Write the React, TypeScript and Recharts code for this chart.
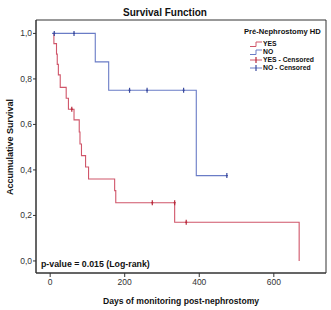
import React from "react";
import {
  ComposedChart,
  Line,
  Scatter,
  XAxis,
  YAxis,
  ReferenceArea,
} from "recharts";

// ---- data ----
const yesDays = [9, 10, 17, 19, 22, 27, 43, 49, 64, 78, 80, 84, 95, 103, 173, 176, 334, 668];
const yesSurv = [1.0, 0.955, 0.909, 0.864, 0.818, 0.763, 0.715, 0.667, 0.62, 0.567, 0.514, 0.463, 0.413, 0.36, 0.309, 0.256, 0.17, 0.0];
const noDays = [5, 121, 157, 392, 474];
const noSurv = [1.0, 0.875, 0.75, 0.375, 0.375];
const yesCensDays = [58, 274, 334, 365];
const yesCensSurv = [0.667, 0.256, 0.256, 0.17];
const noCensDays = [11, 64, 213, 260, 358, 474];
const noCensSurv = [1.0, 1.0, 0.75, 0.75, 0.75, 0.375];
const xTicks = [0, 200, 400, 600];
const yTicks = [0, 0.2, 0.4, 0.6, 0.8, 1.0];
const legendTitle = "Pré-Nephrostomy HD";
const legendItems = ["YES", "NO", "YES - Censored", "NO - Censored"];

const X_MIN = -38;
const X_MAX = 740;
const Y_MIN = -0.053;
const Y_MAX = 1.059;

const RED = "#d0566a";
const BLUE = "#6a7cc6";
const RED_D = "#b8283a";
const BLUE_D = "#3a4a9e";

const zip = (d: number[], s: number[]) => d.map((v, i) => ({ d: v, s: s[i] }));
const yesData = zip(yesDays, yesSurv);
const noData = zip(noDays, noSurv);
const yesCens = zip(yesCensDays, yesCensSurv);
const noCens = zip(noCensDays, noCensSurv);

const FONT = "Arial, 'Liberation Sans', sans-serif";

const censShape = (color: string) => (props: any) => {
  const { cx, cy } = props;
  if (cx == null || cy == null) return <g />;
  return (
    <g>
      <line x1={cx} x2={cx} y1={cy - 2.5} y2={cy + 2.5} stroke={color} strokeWidth={1.2} />
      <line x1={cx - 1} x2={cx + 1} y1={cy} y2={cy} stroke={color} strokeWidth={1.2} />
    </g>
  );
};

const txt = (
  text: string,
  cx: number,
  cy: number,
  size: number,
  extra: React.CSSProperties = {}
) => (
  <div
    style={{
      position: "absolute",
      left: cx - 110,
      top: cy - 7,
      width: 220,
      height: 14,
      lineHeight: "14px",
      textAlign: "center",
      fontFamily: FONT,
      fontWeight: "bold",
      fontSize: size,
      color: "#111",
      whiteSpace: "nowrap",
      ...extra,
    }}
  >
    {text}
  </div>
);

const LegendIcon = ({ idx }: { idx: number }) => {
  const color = idx % 2 === 0 ? RED : BLUE;
  const dark = idx % 2 === 0 ? RED_D : BLUE_D;
  if (idx < 2) {
    return (
      <svg width={13} height={8} style={{ display: "block" }}>
        <path d="M0,6.5 H6 V2 H12" fill="none" stroke={color} strokeWidth={1} />
      </svg>
    );
  }
  return (
    <svg width={13} height={8} style={{ display: "block" }}>
      <line x1={0} x2={12} y1={4} y2={4} stroke={color} strokeWidth={1} />
      <line x1={6} x2={6} y1={1} y2={7} stroke={dark} strokeWidth={1.2} />
    </svg>
  );
};

export default function App() {
  return (
    <div
      style={{
        position: "absolute",
        left: 0,
        top: 0,
        width: 331,
        height: 310,
        background: "#fff",
      }}
    >
      <ComposedChart
        width={331}
        height={310}
        margin={{ top: 20, right: 5, left: 0, bottom: 0 }}
      >
        <XAxis
          dataKey="d"
          type="number"
          domain={[X_MIN, X_MAX]}
          ticks={xTicks}
          allowDataOverflow
          height={37}
          tickSize={4}
          tickMargin={2}
          axisLine={{ stroke: "#333" }}
          tickLine={{ stroke: "#333" }}
          tick={{ fontSize: 8.5, fill: "#333", fontFamily: FONT }}
        />
        <YAxis
          dataKey="s"
          type="number"
          domain={[Y_MIN, Y_MAX]}
          ticks={yTicks}
          allowDataOverflow
          width={36}
          tickSize={3}
          tickMargin={1}
          axisLine={{ stroke: "#333" }}
          tickLine={{ stroke: "#333" }}
          tickFormatter={(v: number) => v.toFixed(1).replace(".", ",")}
          tick={{ fontSize: 8.5, fill: "#333", fontFamily: FONT }}
        />
        <ReferenceArea
          x1={X_MIN}
          x2={X_MAX}
          y1={Y_MIN}
          y2={Y_MAX}
          fill="none"
          fillOpacity={0}
          stroke="#333"
          strokeWidth={1}
          ifOverflow="visible"
        />
        <Line
          data={yesData}
          dataKey="s"
          type="stepAfter"
          stroke={RED}
          strokeWidth={1.1}
          dot={false}
          isAnimationActive={false}
        />
        <Line
          data={noData}
          dataKey="s"
          type="stepAfter"
          stroke={BLUE}
          strokeWidth={1.1}
          dot={false}
          isAnimationActive={false}
        />
        <Scatter
          data={yesCens}
          dataKey="s"
          shape={censShape(RED_D)}
          isAnimationActive={false}
        />
        <Scatter
          data={noCens}
          dataKey="s"
          shape={censShape(BLUE_D)}
          isAnimationActive={false}
        />
      </ComposedChart>

      {txt("Survival Function", 165, 13, 10)}
      {txt("Days of monitoring post-nephrostomy", 181, 301, 8.6)}
      {txt("Accumulative Survival", 10, 147, 9, { transform: "rotate(-90deg)" })}
      <div
        style={{
          position: "absolute",
          left: 41,
          top: 258,
          fontFamily: FONT,
          fontWeight: "bold",
          fontSize: 8.8,
          lineHeight: "12px",
          color: "#111",
          whiteSpace: "nowrap",
        }}
      >
        p-value = 0.015 (Log-rank)
      </div>

      <div
        style={{
          position: "absolute",
          left: 244,
          top: 26,
          fontFamily: FONT,
          fontWeight: "bold",
          fontSize: 7.6,
          lineHeight: "12px",
          color: "#111",
          whiteSpace: "nowrap",
        }}
      >
        {legendTitle}
      </div>
      {legendItems.map((label, i) => (
        <div
          key={label}
          style={{
            position: "absolute",
            left: 250,
            top: 40 + i * 8,
            height: 8,
            display: "flex",
            alignItems: "center",
            fontFamily: FONT,
            fontWeight: "bold",
            fontSize: 6.8,
            lineHeight: "8px",
            color: "#111",
            whiteSpace: "nowrap",
          }}
        >
          <LegendIcon idx={i} />
          <span style={{ marginLeft: 0 }}>{label}</span>
        </div>
      ))}
    </div>
  );
}
